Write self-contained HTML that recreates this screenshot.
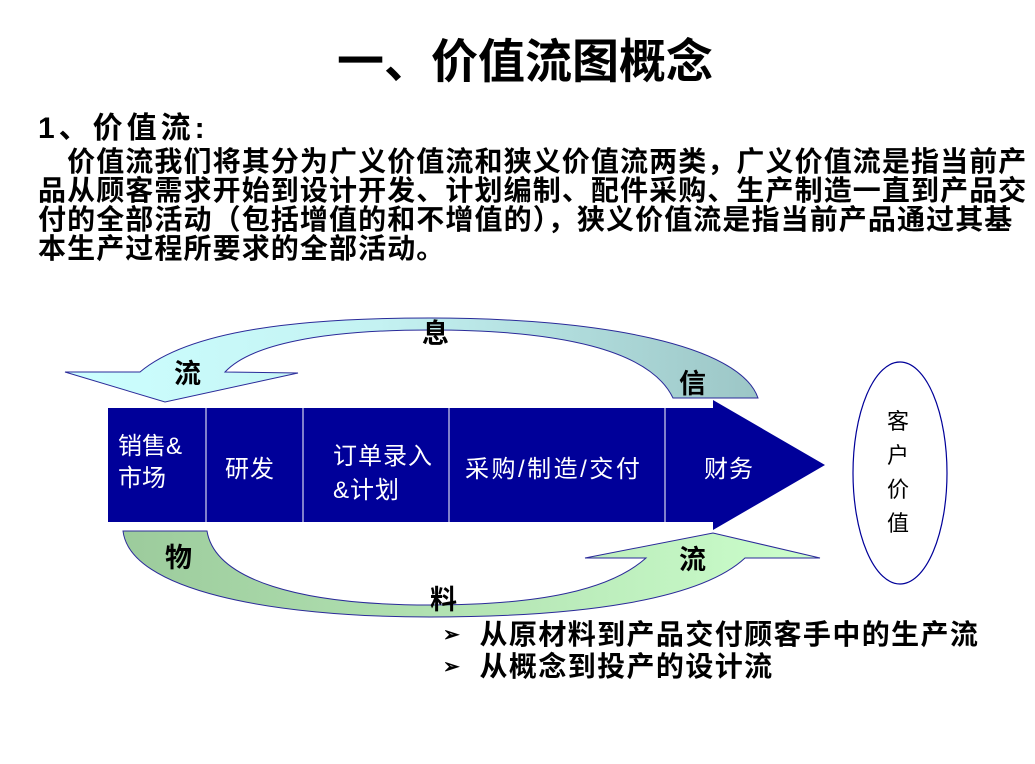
<!DOCTYPE html>
<html><head><meta charset="utf-8"><style>
body{margin:0;background:#fff;}
#c{position:relative;width:1035px;height:764px;overflow:hidden;font-family:"Liberation Sans","Noto Sans CJK SC",sans-serif;}
.a{position:absolute;white-space:nowrap;}
.b{font-weight:bold;color:#000;}
.w{color:#fff;font-size:24px;letter-spacing:1px;}
</style></head><body><div id="c">
<svg width="1035" height="764" style="position:absolute;left:0;top:0">
<defs>
<linearGradient id="g1" x1="0" x2="1" y1="0" y2="0"><stop offset="0" stop-color="#ccffff"/><stop offset="0.45" stop-color="#c4f2f2"/><stop offset="1" stop-color="#9cc6c6"/></linearGradient>
<linearGradient id="g2" x1="0" x2="1" y1="0" y2="0"><stop offset="0" stop-color="#9ccb9c"/><stop offset="0.5" stop-color="#b4e4b4"/><stop offset="1" stop-color="#ccffcc"/></linearGradient>
</defs>
<path d="M65,372 L140,372 C190,330 300,318 430,318 C600,318 740,345 758,398 L673,398 C650,350 560,330 430,330 C320,330 250,345 225,372 L298,373 L165,402 Z" fill="url(#g1)" stroke="#2a2a99" stroke-width="1"/>
<path d="M123,531 L207,531 C215,580 300,605 430,605 C540,605 610,590 646,558 L585,558 L713,533 L820,558 L745,558 C700,600 580,617 430,617 C270,617 130,590 123,531 Z" fill="url(#g2)" stroke="#2a2a99" stroke-width="1"/>
<path d="M108,408 L713,408 L713,400 L825,465 L713,530 L713,522 L108,522 Z" fill="#000099"/>
<g stroke="#fff" stroke-width="1"><line x1="206" y1="408" x2="206" y2="522"/><line x1="303" y1="408" x2="303" y2="522"/><line x1="449" y1="408" x2="449" y2="522"/><line x1="665" y1="408" x2="665" y2="522"/></g>
<ellipse cx="900" cy="473" rx="47" ry="111" fill="#fff" stroke="#000099" stroke-width="1.2"/>
</svg>
<div class="a b" style="left:0;width:1050px;text-align:center;top:36px;font-size:47px;line-height:52px;">一、价值流图概念</div>
<div class="a b" style="left:38px;top:111px;font-size:30px;line-height:36px;letter-spacing:4px;">1、价值流:</div>
<div class="a b" style="left:38px;top:147px;font-size:28px;line-height:29px;letter-spacing:1.1px;">　价值流我们将其分为广义价值流和狭义价值流两类，广义价值流是指当前产<br>品从顾客需求开始到设计开发、计划编制、配件采购、生产制造一直到产品交<br>付的全部活动（包括增值的和不增值的），狭义价值流是指当前产品通过其基<br>本生产过程所要求的全部活动。</div>
<div class="a w" style="left:118px;top:431px;line-height:32px;letter-spacing:0;">销售&amp;<br>市场</div>
<div class="a w" style="left:225px;top:449px;">研发</div>
<div class="a w" style="left:333px;top:440px;line-height:34px;">订单录入<br>&amp;计划</div>
<div class="a w" style="left:465px;top:449px;letter-spacing:2.5px;">采购/制造/交付</div>
<div class="a w" style="left:704px;top:449px;">财务</div>
<div class="a" style="left:887px;top:405px;color:#000;font-size:22px;line-height:34px;text-align:center;">客<br>户<br>价<br>值</div>
<div class="a b" style="left:422px;top:312px;font-size:27px;">息</div>
<div class="a b" style="left:174px;top:352px;font-size:27px;">流</div>
<div class="a b" style="left:679px;top:362px;font-size:27px;">信</div>
<div class="a b" style="left:165px;top:536px;font-size:27px;">物</div>
<div class="a b" style="left:679px;top:538px;font-size:27px;">流</div>
<div class="a b" style="left:430px;top:578px;font-size:27px;">料</div>
<div class="a b" style="left:443px;top:619px;font-size:28px;line-height:32px;letter-spacing:1.4px;"><span style="font-size:20px;vertical-align:3px">➢</span>&nbsp;&nbsp;从原材料到产品交付顾客手中的生产流<br><span style="font-size:20px;vertical-align:3px">➢</span>&nbsp;&nbsp;从概念到投产的设计流</div>
</div></body></html>
